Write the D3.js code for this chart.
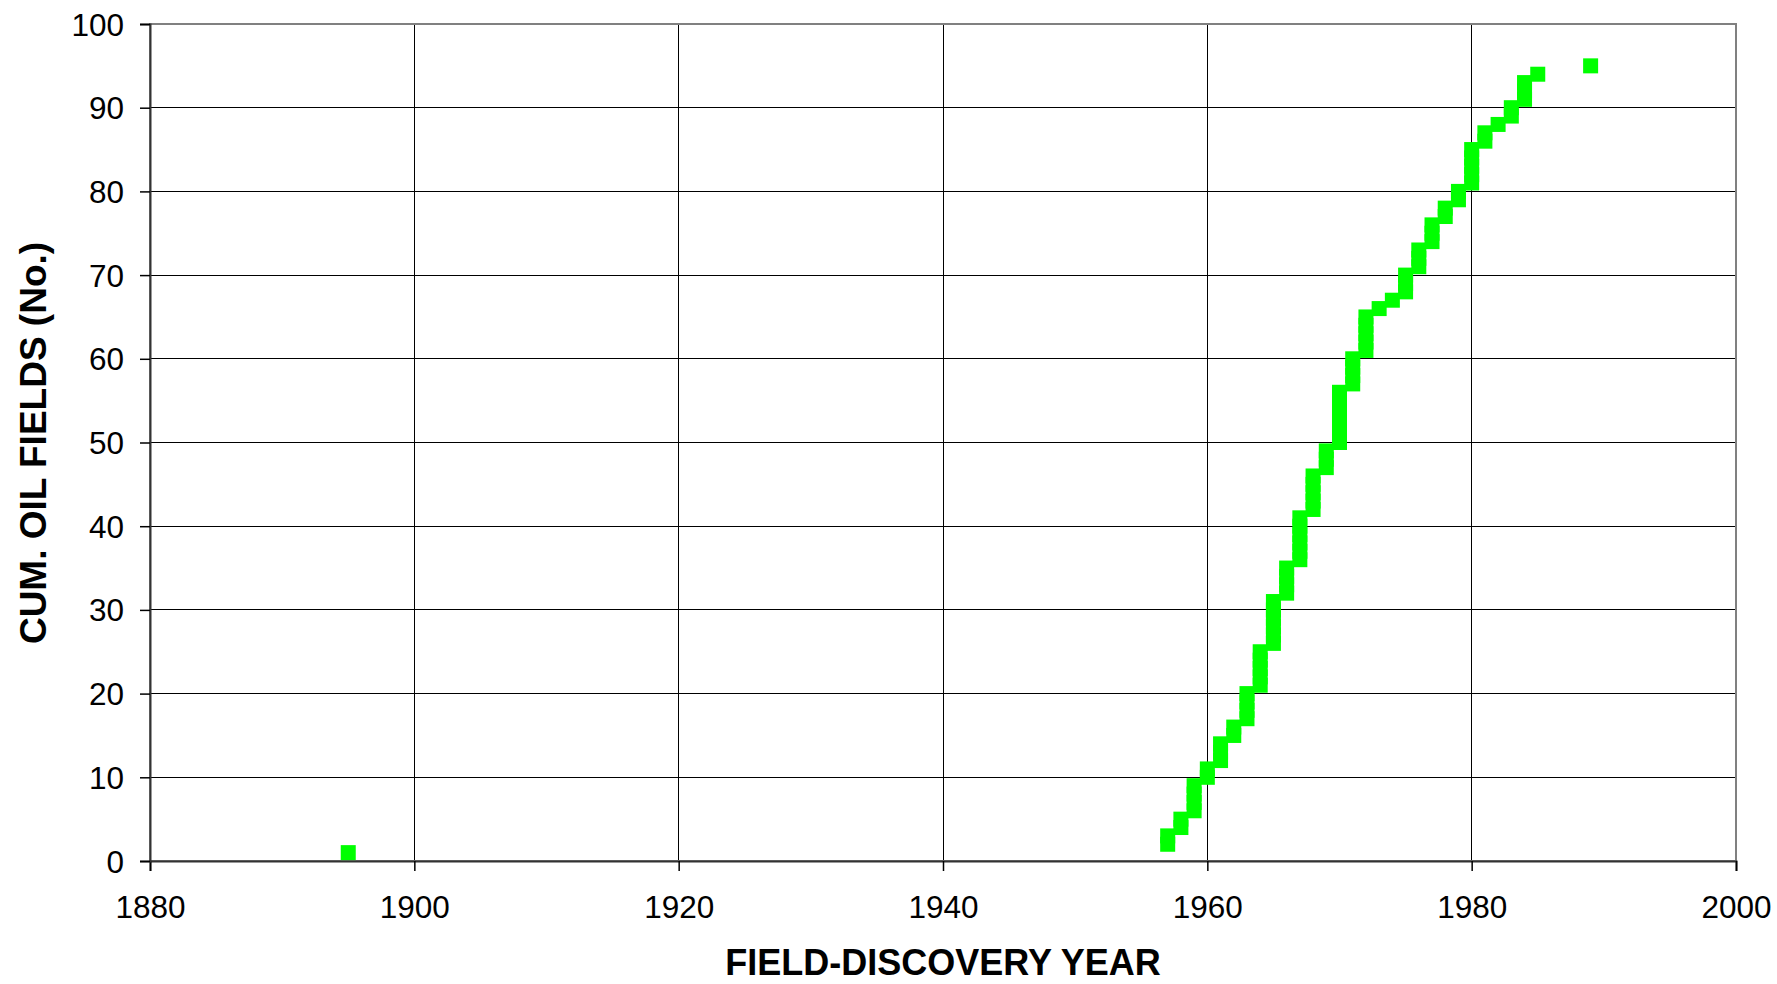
<!DOCTYPE html>
<html>
<head>
<meta charset="utf-8">
<script src="https://cdn.jsdelivr.net/npm/d3@7"></script>
<style>
  html, body { margin: 0; padding: 0; background: #fff; }
  svg { display: block; font-family: "Liberation Sans", Arial, sans-serif; }
</style>
</head>
<body>
<svg id="chart" width="1777" height="984"></svg>
<script>
// Discovery year of each field, in order of cumulative count (1..95)
const fieldYears = [
  1895,
  1957, 1957,
  1958, 1958,
  1959, 1959, 1959, 1959,
  1960, 1960,
  1961, 1961, 1961,
  1962, 1962,
  1963, 1963, 1963, 1963,
  1964, 1964, 1964, 1964, 1964,
  1965, 1965, 1965, 1965, 1965, 1965,
  1966, 1966, 1966, 1966,
  1967, 1967, 1967, 1967, 1967, 1967,
  1968, 1968, 1968, 1968, 1968,
  1969, 1969, 1969,
  1970, 1970, 1970, 1970, 1970, 1970, 1970,
  1971, 1971, 1971, 1971,
  1972, 1972, 1972, 1972, 1972,
  1973,
  1974,
  1975, 1975, 1975,
  1976, 1976, 1976,
  1977, 1977, 1977,
  1978, 1978,
  1979, 1979,
  1980, 1980, 1980, 1980, 1980,
  1981, 1981,
  1982,
  1983, 1983,
  1984, 1984, 1984,
  1985,
  1989
];
const cumFields = fieldYears.map((y, i) => i + 1);

const xTicks = [1880, 1900, 1920, 1940, 1960, 1980, 2000];
const yTicks = [0, 10, 20, 30, 40, 50, 60, 70, 80, 90, 100];
const xTitle = "FIELD-DISCOVERY YEAR";
const yTitle = "CUM. OIL FIELDS (No.)";

const m = { left: 150, right: 1736, top: 24, bottom: 861 };
const svg = d3.select("#chart");

const x = d3.scaleLinear().domain([1880, 2000]).range([m.left, m.right]);
const y = d3.scaleLinear().domain([0, 100]).range([m.bottom, m.top]);

// horizontal gridlines
svg.append("g")
  .selectAll("line").data(yTicks.filter(d => d > 0 && d < 100)).join("line")
  .attr("x1", m.left).attr("x2", m.right)
  .attr("y1", d => y(d)).attr("y2", d => y(d))
  .attr("stroke", "#000").attr("stroke-width", 1).attr("shape-rendering", "crispEdges");

// vertical gridlines
svg.append("g")
  .selectAll("line").data(xTicks.filter(d => d > 1880 && d < 2000)).join("line")
  .attr("x1", d => x(d)).attr("x2", d => x(d))
  .attr("y1", m.top).attr("y2", m.bottom)
  .attr("stroke", "#000").attr("stroke-width", 1).attr("shape-rendering", "crispEdges");

// plot border (top/right gray)
svg.append("rect")
  .attr("x", m.left).attr("y", m.top)
  .attr("width", m.right - m.left).attr("height", m.bottom - m.top)
  .attr("fill", "none").attr("stroke", "#808080").attr("stroke-width", 2);

// axes
const xAxis = svg.append("g")
  .attr("transform", `translate(0,${m.bottom})`)
  .call(d3.axisBottom(x).tickValues(xTicks).tickFormat(d3.format("d")).tickSize(10).tickPadding(25));
const yAxis = svg.append("g")
  .attr("transform", `translate(${m.left},0)`)
  .call(d3.axisLeft(y).tickValues(yTicks).tickSize(10).tickPadding(16));

[xAxis, yAxis].forEach(g => {
  g.select(".domain").attr("stroke", "#333").attr("stroke-width", 2);
  g.selectAll(".tick line").attr("stroke", "#000").attr("stroke-width", 1.5);
  g.selectAll(".tick text").attr("fill", "#000")
    .style("font-family", '"Liberation Sans", Arial, sans-serif')
    .style("font-size", "31.5px");
});
xAxis.selectAll(".tick text").attr("dy", "0.71em");
yAxis.selectAll(".tick text").attr("dy", "0.35em");

// markers
const ms = 15;
svg.append("g")
  .selectAll("rect").data(fieldYears).join("rect")
  .attr("x", d => x(d) - ms / 2)
  .attr("y", (d, i) => y(cumFields[i]) - ms / 2)
  .attr("width", ms).attr("height", ms)
  .attr("fill", "#00ff00");

// axis titles
svg.append("text")
  .attr("x", 943).attr("y", 975)
  .attr("text-anchor", "middle")
  .style("font-size", "36px").style("font-weight", "bold")
  .text(xTitle);

svg.append("text")
  .attr("transform", `translate(46,443) rotate(-90)`)
  .attr("text-anchor", "middle")
  .style("font-size", "37px").style("font-weight", "bold")
  .text(yTitle);
</script>
</body>
</html>
